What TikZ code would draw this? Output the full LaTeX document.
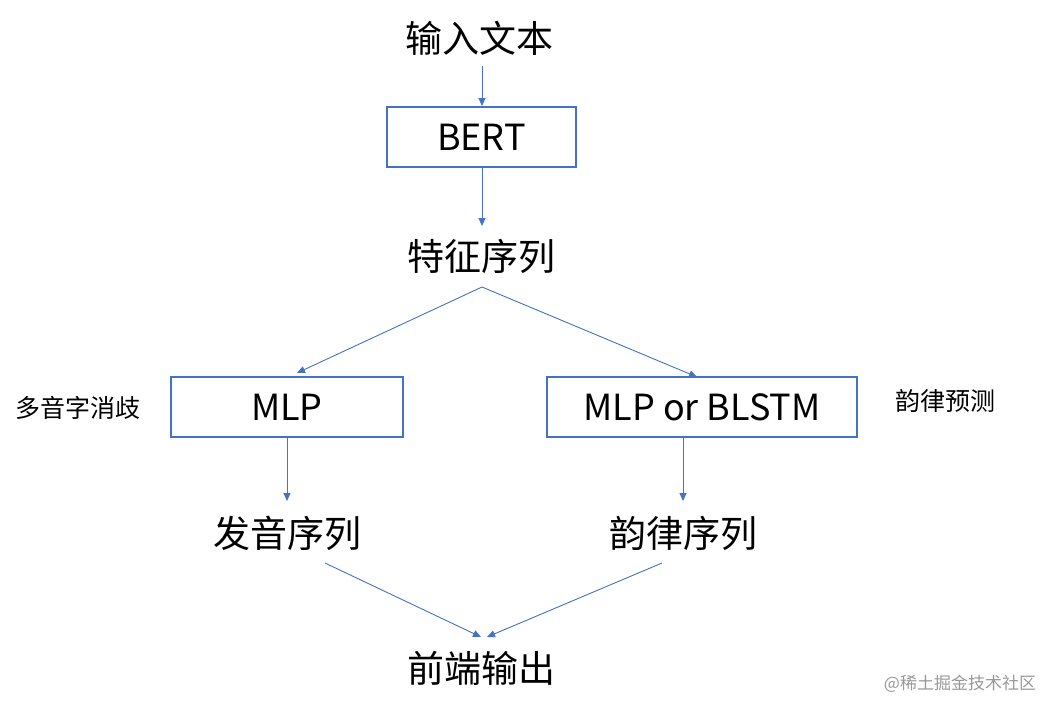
\documentclass[tikz,border=0pt]{standalone}
\usepackage{fontspec}
\setmainfont{Noto Sans CJK SC}
\usetikzlibrary{arrows.meta}
\definecolor{bl}{HTML}{4472C4}
\begin{document}
\begin{tikzpicture}[x=1pt,y=-1pt,
  lbl/.style={font=\fontsize{37}{40}\selectfont,inner sep=0pt},
  box/.style={draw=bl,line width=1.5pt,font=\fontsize{36}{40}\selectfont,inner sep=0pt},
  sm/.style={font=\fontsize{25}{28}\selectfont,inner sep=0pt},
  arr/.style={draw=bl,line width=0.9pt,-{Triangle[length=8pt,width=7pt]}},
  ln/.style={draw=bl,line width=0.9pt}]
\useasboundingbox[fill=white] (0,0) rectangle (1061,713);
\node[lbl] (in) at (479,38) {输入文本};
\node[box,minimum width=189pt,minimum height=60pt] (bert) at (481.5,137) {BERT};
\node[lbl] (feat) at (481,256) {特征序列};
\node[box,minimum width=232pt,minimum height=60pt] (mlp) at (287,407) {MLP};
\node[box,minimum width=310pt,minimum height=60pt] (bl) at (702,407) {MLP or BLSTM};
\node[sm] (dy) at (78,408) {多音字消歧};
\node[sm] (yl) at (945,401) {韵律预测};
\node[lbl] (fy) at (287,533) {发音序列};
\node[lbl] (ylx) at (683,533) {韵律序列};
\node[lbl] (out) at (481,668) {前端输出};
\node[font=\fontsize{17}{20}\selectfont,text=gray!80,inner sep=0pt] (wm) at (960,684) {@稀土掘金技术社区};
\coordinate (a1) at (482,66); \coordinate (a2) at (482,106);
\draw[arr] (a1) -- (a2);
\coordinate (b1) at (482,168); \coordinate (b2) at (482,226);
\draw[arr] (b1) -- (b2);
\coordinate (c0) at (482,287); \coordinate (c1) at (297,373); \coordinate (c2) at (697,377);
\draw[arr] (c0) -- (c1);
\draw[arr] (c0) -- (c2);
\coordinate (d1) at (287,438); \coordinate (d2) at (287,501);
\draw[arr] (d1) -- (d2);
\coordinate (e1) at (683,438); \coordinate (e2) at (683,501);
\draw[arr] (e1) -- (e2);
\coordinate (f1) at (325,563); \coordinate (f2) at (481,637);
\coordinate (g1) at (662,563); \coordinate (g2) at (487,637);
\draw[arr] (f1) -- (f2);
\draw[arr] (g1) -- (g2);
\end{tikzpicture}
\end{document}
